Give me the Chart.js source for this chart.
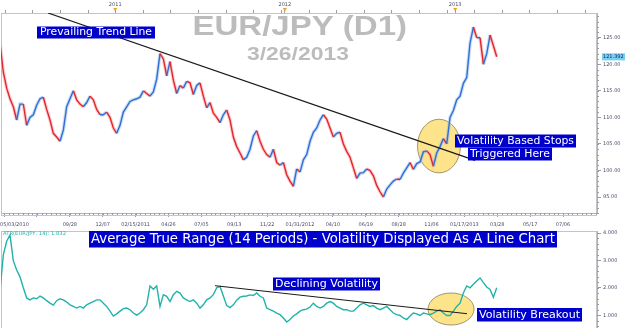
<!DOCTYPE html>
<html><head><meta charset="utf-8">
<script src="https://cdn.jsdelivr.net/npm/chart.js@4"></script>
<style>
html,body{margin:0;padding:0;background:#fff;}
#wrap{position:relative;width:625px;height:328px;overflow:hidden;background:#fff;}
#c1{position:absolute;left:0;top:0;}
#c2{position:absolute;left:0;top:229px;}
</style></head><body>
<div id="wrap"><canvas id="c1" width="625" height="229"></canvas><canvas id="c2" width="625" height="99"></canvas></div>
<script>
// ---------- DATA ----------
// one sample every ~5 trading days, x measured in trading days from 05/03/2010
const SAMPLE_STEP = 5.07;
const FIRST_DAY = -6.24;
const closePrices = [124,118.5,115.5,113.5,112,109.5,112.5,112.5,108.5,110,
110.5,112.3,113.5,113.8,111.5,109.5,107,106.3,105.5,107.6,
112,113.5,115,113.3,112.5,112,112.8,114,113.3,111.5,
110.5,110.5,111,110,108,107,108.5,111,112,113,
113.3,113.5,113.8,115,114.5,114,114.8,117.2,122,121,
117.8,120.5,117,114.5,116,115.5,116.8,116.5,114.3,116,
116.5,114,111.8,112.8,110.8,110,109,110.5,111.4,109.5,
106.3,104.5,103.3,102,102.5,104,106.5,107.5,105.5,104,
103,102.5,104,101.5,101,101.5,99.2,98,97,100.3,
99.7,102,103,105.5,107.2,108,109.5,110.5,109.7,108,
106.3,107,107.2,105,103.6,102.5,100.5,98.5,99.5,99.6,
100.3,100,99,97.2,96,95,96.5,97.3,98,98.4,
98.3,99.5,100.5,101.5,100.2,101.3,101.6,103.5,103.7,103,
100.8,103.3,104.5,106,105,110,111.3,113.3,114,116.4,
117.5,124,127,125,125,120,122,125.5,123.5,121.4];
const atrValues = [1.88,3.2,3.7,3.93,2.98,2.65,2.4,2.0,1.63,1.56,
1.63,1.6,1.7,1.63,1.53,1.44,1.37,1.53,1.6,1.56,
1.48,1.38,1.32,1.26,1.32,1.26,1.38,1.44,1.5,1.56,
1.56,1.44,1.32,1.15,0.97,1.05,1.15,1.24,1.26,1.2,
1.08,1.0,1.08,1.2,1.38,2.07,1.95,2.07,1.32,1.75,
1.69,1.5,1.75,1.87,1.81,1.63,1.56,1.5,1.56,1.44,
1.26,1.38,1.56,1.63,1.75,2.0,2.05,1.7,1.35,1.28,
1.38,1.55,1.66,1.69,1.7,1.74,1.72,1.81,1.69,1.63,
1.26,1.2,1.15,1.08,1.02,0.9,0.75,0.84,0.97,1.05,
1.15,1.2,1.22,1.3,1.44,1.32,1.26,1.32,1.44,1.5,
1.44,1.32,1.26,1.2,1.2,1.15,1.15,1.26,1.38,1.44,
1.38,1.32,1.35,1.26,1.2,1.26,1.32,1.2,1.08,1.02,
0.99,0.9,0.84,0.97,1.08,1.05,0.99,1.08,1.05,1.02,
1.08,1.15,1.2,1.08,0.99,0.99,1.15,1.32,1.44,1.81,
2.07,2.0,2.13,2.25,2.36,2.19,2.03,1.94,1.65,2.0];
const lastPrice = 121.392;
const atrLast = 1.832;
const dayTicks = [0,50,100,150,200,250,300,350,400,450,500,550,600,650,700,750,800,850];
const dayTickLabels = ['             05/03/2010','','09/28','12/07','02/15/2011','04/26','07/05','09/13','11/22','01/31/2012','04/10','06/19','08/28','11/06','01/17/2013','03/28','05/17','07/06'];
const yearTicks = [169,427,686];
const yearTickLabels = ['2011','2012','2013'];
const priceTicks = [95,100,105,110,115,120,125];
const atrTicks = [1,2,3,4];
const priceTrendDays = [66.8,716.2];
const priceTrendValues = [129.65,101.9];
const atrTrendDays = [320.8,704];
const atrTrendValues = [2.077,1.055];

// ---------- helpers ----------
const X_MIN = -4.71, X_MAX = 901.7;
const AXIS_COLOR = '#4b4b6b';
const TICK_COLOR = '#9a9aa8';
const BLUE = '#2f6fd6', RED = '#e3262b';
const pricePts = closePrices.map((v,i)=>({x:FIRST_DAY+SAMPLE_STEP*i,y:v}));
const atrPts = atrValues.map((v,i)=>({x:FIRST_DAY+SAMPLE_STEP*i,y:v}));
const trendPts = priceTrendDays.map((d,i)=>({x:d,y:priceTrendValues[i]}));
const atrTrendPts = atrTrendDays.map((d,i)=>({x:d,y:atrTrendValues[i]}));
const smallFont = {family:'DejaVu Sans', size:5};

function zeroPad(s){ s.paddingLeft=0; s.paddingRight=0; s.paddingTop=0; s.paddingBottom=0; }

function drawBoxText(ctx, n){
  ctx.save();
  if(n.bg){ ctx.fillStyle=n.bg; ctx.fillRect(n.x,n.y,n.w,n.h); }
  ctx.font = (n.bold?'bold ':'')+n.size+'px "'+(n.family||'DejaVu Sans')+'"';
  const m = ctx.measureText(n.text).width;
  const pad = n.pad||0;
  const sx = (n.w-2*pad)/m;
  if(n.base!==undefined){ ctx.translate(n.x+pad,n.base); ctx.textBaseline='alphabetic'; }
  else { ctx.translate(n.x+pad,n.y+n.h/2+(n.dy||0)); ctx.textBaseline='middle'; }
  ctx.scale(sx,1);
  ctx.fillStyle=n.color; ctx.textAlign='left';
  ctx.fillText(n.text,0,0);
  ctx.restore();
}

const notesPlugin = {
  id:'notes',
  afterDraw(chart,args,opts){ (opts.items||[]).forEach(n=>drawBoxText(chart.ctx,n)); }
};
const ellipsePlugin = {
  id:'ellipse',
  beforeDatasetsDraw(chart,args,opts){
    const {ctx,scales:{x,y}} = chart;
    (opts.items||[]).forEach(e=>{
      const cx=x.getPixelForValue(e.x), cy=y.getPixelForValue(e.y);
      const rx=Math.abs(x.getPixelForValue(e.x+e.rx)-cx), ry=Math.abs(y.getPixelForValue(e.y+e.ry)-cy);
      ctx.save(); ctx.beginPath(); ctx.ellipse(cx,cy,rx,ry,0,0,Math.PI*2);
      ctx.fillStyle='#fde38a'; ctx.fill(); ctx.lineWidth=0.8; ctx.strokeStyle='#8c7f5a'; ctx.stroke(); ctx.restore();
    });
  }
};
const framePlugin = {
  id:'frame',
  beforeDatasetsDraw(chart){
    const {ctx,chartArea:a} = chart;
    ctx.save(); ctx.strokeStyle='#c4c4c4'; ctx.lineWidth=1;
    ctx.strokeRect(Math.round(a.left)+0.5,Math.round(a.top)+0.5,Math.round(a.right-a.left)-1,Math.round(a.bottom-a.top)+2);
    ctx.restore();
  }
};
// short minor tick marks along the axes (axis decoration, positioned by the scales)
const minorTickPlugin = {
  id:'minorTicks',
  afterDraw(chart,args,opts){
    const {ctx,scales} = chart;
    ctx.save(); ctx.strokeStyle=TICK_COLOR; ctx.lineWidth=1;
    if(opts.xStep && scales.x.options.display!==false){
      const s=scales.x;
      for(let v=0; v<=X_MAX; v+=opts.xStep){ const px=Math.round(s.getPixelForValue(v))+0.5; if(px<s.left||px>s.right) continue; ctx.beginPath(); ctx.moveTo(px,s.top); ctx.lineTo(px,s.top+2); ctx.stroke(); }
    }
    if(opts.topStep && scales.xTop){
      const s=scales.xTop;
      for(let v=yearTicks[0]-opts.topStep*4; v<=X_MAX; v+=opts.topStep){ const px=Math.round(s.getPixelForValue(v))+0.5; if(px<s.left||px>s.right) continue; ctx.beginPath(); ctx.moveTo(px,s.bottom); ctx.lineTo(px,s.bottom-3); ctx.stroke(); }
    }
    if(opts.yStep){
      const s=scales.y;
      for(let v=Math.ceil(s.min/opts.yStep)*opts.yStep; v<=s.max; v+=opts.yStep){ const py=Math.round(s.getPixelForValue(v))+0.5; ctx.beginPath(); ctx.moveTo(s.left,py); ctx.lineTo(s.left+2,py); ctx.stroke(); }
    }
    ctx.restore();
  }
};
const markerPlugin = {
  id:'marker',
  afterDraw(chart,args,opts){
    const {ctx,scales} = chart;
    if(opts.years){
      const s = scales.xTop;
      ctx.save(); ctx.fillStyle='#f0a020';
      yearTicks.forEach(d=>{ const px=s.getPixelForValue(d); ctx.beginPath(); ctx.moveTo(px-2,8); ctx.lineTo(px+2,8); ctx.lineTo(px,11.5); ctx.closePath(); ctx.fill(); });
      ctx.restore();
    }
    if(opts.last!==undefined){
      const ys = scales.y.getPixelForValue(opts.last);
      const x0 = chart.chartArea.right+5;
      ctx.save(); ctx.fillStyle='#74cff2'; ctx.fillRect(x0,ys-3.5,chart.width-x0,7);
      ctx.font='5px "DejaVu Sans"'; ctx.fillStyle='#1a2a5a'; ctx.textBaseline='middle';
      ctx.fillText(opts.last.toFixed(3),x0+1,ys+0.3); ctx.restore();
    }
  }
};

// ---------- chart 1: price ----------
new Chart(document.getElementById('c1'),{
  type:'line',
  data:{datasets:[
    {data:trendPts,borderColor:'#1a1a1a',borderWidth:1.2,pointRadius:0,tension:0},
    {data:pricePts,borderWidth:1.4,pointRadius:0,tension:0,borderColor:BLUE,
      segment:{borderColor:c=>c.p1.parsed.y>=c.p0.parsed.y?BLUE:RED}},
    {data:pricePts,borderWidth:3.5,pointRadius:0,tension:0,borderColor:'rgba(150,185,235,0.5)',
      segment:{borderColor:c=>c.p1.parsed.y>=c.p0.parsed.y?'rgba(150,185,235,0.5)':'rgba(245,160,165,0.5)'}}
  ]},
  options:{
    responsive:false,animation:false,
    layout:{padding:{left:1,right:0,top:0,bottom:0}},
    plugins:{legend:{display:false},tooltip:{enabled:false},
      notes:{items:[
        {text:'EUR/JPY (D1)',x:192.5,base:35,w:214.5,size:28,bold:true,family:'Liberation Sans',color:'#bcbcbc'},
        {text:'3/26/2013',x:247,base:60,w:102,size:18.5,bold:true,family:'Liberation Sans',color:'#bcbcbc'},
        {text:'Prevailing Trend Line',x:37,y:26.5,w:118,h:12,size:10.5,pad:3,bg:'#0000cc',color:'#ffffff'},
        {text:'Volatility Based Stops',x:455,y:134.5,w:121,h:13,size:11,pad:2,bg:'#0000cc',color:'#ffffff'},
        {text:'Triggered Here',x:468,y:147.5,w:84,h:13,size:11,pad:2,bg:'#0000cc',color:'#ffffff'}
      ]},
      ellipse:{items:[{x:661.4,y:104.6,rx:32.7,ry:5.05}]},
      minorTicks:{xStep:50/7,topStep:42,yStep:1},
      marker:{years:true,last:lastPrice}
    },
    scales:{
      x:{type:'linear',position:'bottom',min:X_MIN,max:X_MAX,
        afterBuildTicks:s=>{s.ticks=dayTicks.map(v=>({value:v}));},
        afterFit:s=>{s.height=16;zeroPad(s);},
        ticks:{autoSkip:false,maxRotation:0,padding:5,font:smallFont,color:AXIS_COLOR,callback:(v,i)=>dayTickLabels[i]},
        grid:{drawOnChartArea:false,tickLength:4,color:TICK_COLOR},border:{color:'#b0b0b8'}},
      xTop:{type:'linear',position:'top',min:X_MIN,max:X_MAX,
        afterBuildTicks:s=>{s.ticks=yearTicks.map(v=>({value:v}));},
        afterFit:s=>{s.height=13;zeroPad(s);},
        ticks:{autoSkip:false,maxRotation:0,padding:1,font:smallFont,color:AXIS_COLOR,callback:(v,i)=>yearTickLabels[i]},
        grid:{drawOnChartArea:false,tickLength:4,color:TICK_COLOR},border:{color:'#b0b0b8'}},
      y:{type:'linear',position:'right',min:92.0,max:129.65,
        afterBuildTicks:s=>{s.ticks=priceTicks.map(v=>({value:v}));},
        afterFit:s=>{s.width=28;zeroPad(s);},
        ticks:{autoSkip:false,padding:2,font:smallFont,color:AXIS_COLOR,callback:v=>v.toFixed(2)},
        grid:{drawOnChartArea:false,tickLength:4,color:TICK_COLOR},border:{color:'#b0b0b8'}}
    }
  },
  plugins:[framePlugin,ellipsePlugin,notesPlugin,markerPlugin,minorTickPlugin]
});

// ---------- chart 2: ATR ----------
new Chart(document.getElementById('c2'),{
  type:'line',
  data:{datasets:[
    {data:atrTrendPts,borderColor:'#1a1a1a',borderWidth:1,pointRadius:0,tension:0},
    {data:atrPts,borderColor:'#1fb3aa',borderWidth:1.4,pointRadius:0,tension:0}
  ]},
  options:{
    responsive:false,animation:false,
    layout:{padding:{left:1,right:0,top:2,bottom:0}},
    plugins:{legend:{display:false},tooltip:{enabled:false},
      notes:{items:[
        {text:'ATR(EUR/JPY, 14): '+atrLast.toFixed(3),x:3,y:2,w:63,h:5,size:5,color:'#1fb3aa'},
        {text:'Average True Range (14 Periods) - Volatility Displayed As A Line Chart',x:89,y:2,w:468,h:16.5,size:14,pad:2,bg:'#0000cc',color:'#ffffff'},
        {text:'Declining Volatility',x:273,y:48.5,w:107,h:13,size:11,pad:2,bg:'#0000cc',color:'#ffffff'},
        {text:'Volatility Breakout',x:477,y:79,w:105,h:13.5,size:11,pad:2,bg:'#0000cc',color:'#ffffff'}
      ]},
      ellipse:{items:[{x:679.7,y:1.226,rx:35,ry:0.584}]},
      minorTicks:{yStep:0.2},
      marker:{}
    },
    scales:{
      x:{type:'linear',display:false,min:X_MIN,max:X_MAX},
      y:{type:'linear',position:'right',min:0.533,max:4.073,
        afterBuildTicks:s=>{s.ticks=atrTicks.map(v=>({value:v}));},
        afterFit:s=>{s.width=28;zeroPad(s);},
        ticks:{autoSkip:false,padding:2,font:smallFont,color:AXIS_COLOR,callback:v=>v.toFixed(3)},
        grid:{drawOnChartArea:false,tickLength:4,color:TICK_COLOR},border:{color:'#b0b0b8'}}
    }
  },
  plugins:[framePlugin,ellipsePlugin,notesPlugin,markerPlugin,minorTickPlugin]
});
</script>
</body></html>
